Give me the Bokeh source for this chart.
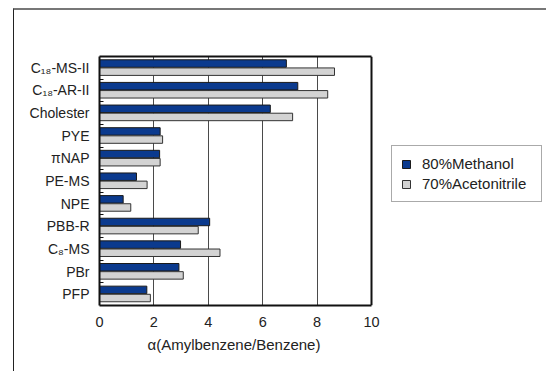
from bokeh.plotting import figure
from bokeh.models import (ColumnDataSource, FixedTicker, Legend, LegendItem, Range1d,
                          LinearAxis, Span, Title)
from bokeh.embed import file_html
from bokeh.resources import INLINE

categories = ["C₁₈-MS-II", "C₁₈-AR-II", "Cholester", "PYE", "πNAP", "PE-MS",
              "NPE", "PBB-R", "C₈-MS", "PBr", "PFP"]
methanol = [6.87, 7.29, 6.28, 2.23, 2.21, 1.36, 0.87, 4.05, 2.98, 2.92, 1.74]
acetonitrile = [8.64, 8.39, 7.10, 2.32, 2.23, 1.75, 1.15, 3.63, 4.43, 3.08, 1.87]
series_names = ["80%Methanol", "70%Acetonitrile"]
x_ticks = [0, 2, 4, 6, 8, 10]
x_label = "α(Amylbenzene/Benzene)"

n = len(categories)
centers = [n - i - 0.5 for i in range(n)]
bounds = list(range(1, n))
X_MAX = x_ticks[-1]

FONT = "Liberation Sans"

W, H = 533, 363
LEFT, TOP, BOTTOM = 85, 46, 68
frame_w = W - LEFT
axis_px = 272  # pixel length of the 0..10 axis
x_end = X_MAX * frame_w / axis_px

p = figure(width=W, height=H, output_backend="svg", toolbar_location=None,
           x_range=Range1d(0, x_end), y_range=Range1d(0, n),
           min_border_left=LEFT, min_border_top=TOP, min_border_bottom=BOTTOM, min_border_right=0,
           styles={"margin-left": "13px", "margin-top": "8px",
                   "border-left": "1px solid #222", "border-top": "2px solid #777"})

src = ColumnDataSource(dict(
    y_m=[c + 0.19 for c in centers],
    y_a=[c - 0.17 for c in centers],
    m=methanol, a=acetonitrile))

r1 = p.hbar(y="y_m", left=0, right="m", height=0.33, source=src,
            fill_color="#0B3A8E", line_color="#1a1a1a", line_width=1)
r2 = p.hbar(y="y_a", left=0, right="a", height=0.33, source=src,
            fill_color="#D3D3D3", line_color="#333333", line_width=1)

p.xaxis.ticker = FixedTicker(ticks=x_ticks)
p.xaxis.bounds = (0, X_MAX)
p.xaxis.major_tick_out = 0
p.xaxis.major_tick_in = 0
p.xaxis.minor_tick_out = 0
p.xaxis.axis_line_width = 2
p.xaxis.axis_line_color = "#111111"
p.xaxis.major_label_text_font = FONT
p.xaxis.major_label_text_font_size = "14.5px"
p.xaxis.major_label_text_color = "#222222"
p.xaxis.major_label_standoff = 11

xt = Title(text=x_label, align="left", offset=48, text_font=FONT, text_font_size="15px",
           text_font_style="normal", text_color="#222222", standoff=9)
p.add_layout(xt, "below")

top_axis = LinearAxis(ticker=FixedTicker(ticks=[]), bounds=(0, X_MAX),
                      axis_line_width=2, axis_line_color="#111111",
                      major_tick_in=0, major_tick_out=0, minor_tick_in=0, minor_tick_out=0,
                      major_label_text_font_size="0px")
p.add_layout(top_axis, "above")
p.add_layout(Span(location=X_MAX, dimension="height", line_color="#111111", line_width=2))

p.yaxis.ticker = FixedTicker(ticks=centers, minor_ticks=bounds)
p.yaxis.major_label_overrides = {c: lab for c, lab in zip(centers, categories)}
p.yaxis.major_tick_in = 0
p.yaxis.major_tick_out = 0
p.yaxis.minor_tick_in = 4
p.yaxis.minor_tick_out = 0
p.yaxis.minor_tick_line_color = "#111111"
p.yaxis.axis_line_width = 2
p.yaxis.axis_line_color = "#111111"
p.yaxis.major_label_text_font = FONT
p.yaxis.major_label_text_font_size = "14px"
p.yaxis.major_label_text_color = "#222222"
p.yaxis.major_label_standoff = 10

p.ygrid.grid_line_color = None
p.xgrid.ticker = FixedTicker(ticks=x_ticks[1:-1])
p.xgrid.grid_line_color = "#4a4a4a"
p.xgrid.grid_line_width = 1

p.outline_line_color = None

legend = Legend(items=[LegendItem(label=series_names[0], renderers=[r1]),
                       LegendItem(label=series_names[1], renderers=[r2])],
                location=(292, 103), orientation="vertical",
                label_text_font=FONT, label_text_font_size="15px",
                label_text_color="#222222", label_width=110,
                glyph_width=10, glyph_height=10, spacing=3,
                padding=9, margin=0, label_standoff=11,
                border_line_color="#555555", border_line_width=1,
                background_fill_alpha=1)
p.add_layout(legend, "center")

open("out.html", "w").write(file_html(p, INLINE))
